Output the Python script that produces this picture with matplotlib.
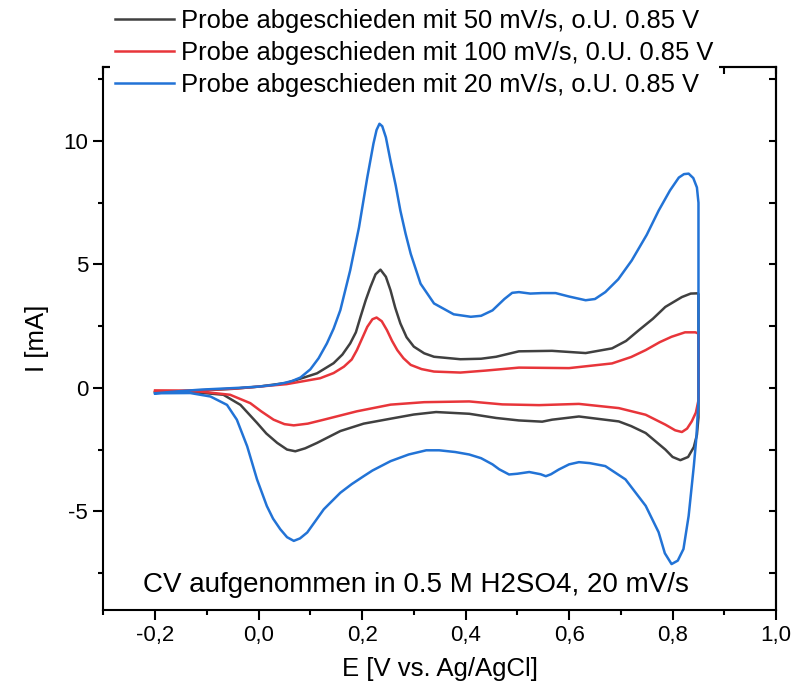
import matplotlib
matplotlib.use('Agg')
import matplotlib.pyplot as plt
from matplotlib import ticker

# CV data as (E [V], I [mA]); scan -0.2 V -> 0.85 V -> -0.2 V
labels = ['Probe abgeschieden mit 50 mV/s, o.U. 0.85 V',
          'Probe abgeschieden mit 100 mV/s, 0.U. 0.85 V',
          'Probe abgeschieden mit 20 mV/s, o.U. 0.85 V']
colors = ['#404040', '#e8353a', '#2273d6']

cv_50 = [(-0.2, -0.18), (-0.127, -0.12), (-0.05, -0.04), (0.0, 0.05), (0.054, 0.2), (0.085, 0.4),
         (0.113, 0.59), (0.145, 1.0), (0.162, 1.35), (0.177, 1.8), (0.188, 2.25), (0.197, 2.88),
         (0.207, 3.55), (0.216, 4.08), (0.226, 4.6), (0.2355, 4.79), (0.246, 4.5), (0.255, 3.95),
         (0.264, 3.25), (0.274, 2.61), (0.286, 2.05), (0.300, 1.67), (0.32, 1.4),
         (0.339, 1.26), (0.39, 1.16), (0.43, 1.18), (0.459, 1.26), (0.503, 1.48), (0.567, 1.5),
         (0.632, 1.41), (0.683, 1.6), (0.71, 1.9), (0.735, 2.34), (0.762, 2.8), (0.786, 3.28),
         (0.818, 3.68), (0.835, 3.82), (0.848, 3.83), (0.850, 3.8),
         (0.850, -1.2), (0.847, -1.9), (0.841, -2.4), (0.83, -2.8), (0.815, -2.93), (0.80, -2.8),
         (0.786, -2.5), (0.748, -1.83), (0.72, -1.55), (0.696, -1.36), (0.619, -1.16), (0.567, -1.29),
         (0.548, -1.37), (0.503, -1.32), (0.459, -1.22), (0.407, -1.05), (0.343, -0.98), (0.30, -1.08),
         (0.255, -1.25), (0.203, -1.45), (0.158, -1.75), (0.113, -2.23), (0.09, -2.45), (0.071, -2.57),
         (0.055, -2.5), (0.036, -2.23), (0.015, -1.85), (-0.003, -1.42), (-0.035, -0.69),
         (-0.068, -0.28), (-0.127, -0.17), (-0.2, -0.18)]

cv_100 = [(-0.2, -0.12), (-0.113, -0.1), (-0.04, -0.02), (0.0, 0.05), (0.054, 0.15), (0.119, 0.39),
          (0.145, 0.6), (0.165, 0.86), (0.180, 1.15), (0.190, 1.53), (0.200, 2.0), (0.210, 2.47),
          (0.220, 2.78), (0.228, 2.85), (0.238, 2.7), (0.248, 2.34), (0.258, 1.9), (0.268, 1.53),
          (0.280, 1.2), (0.294, 0.93), (0.315, 0.76), (0.339, 0.66), (0.39, 0.62),
          (0.439, 0.7), (0.503, 0.82), (0.60, 0.8), (0.683, 0.99), (0.72, 1.25), (0.748, 1.53),
          (0.775, 1.85), (0.798, 2.07), (0.824, 2.25), (0.844, 2.25), (0.850, 2.2),
          (0.850, -0.5), (0.845, -1.0), (0.837, -1.36), (0.828, -1.65), (0.818, -1.79), (0.805, -1.72),
          (0.786, -1.49), (0.748, -1.09), (0.696, -0.82), (0.619, -0.65), (0.542, -0.70), (0.471, -0.67),
          (0.407, -0.55), (0.32, -0.58), (0.255, -0.68), (0.190, -0.95), (0.126, -1.29), (0.095, -1.45),
          (0.068, -1.52), (0.05, -1.47), (0.029, -1.29), (0.005, -0.95), (-0.016, -0.62),
          (-0.055, -0.28), (-0.113, -0.15), (-0.2, -0.12)]

cv_20 = [(-0.2, -0.22), (-0.15, -0.13), (-0.11, -0.07), (-0.04, 0.0), (0.0, 0.05), (0.03, 0.12),
         (0.05, 0.2), (0.065, 0.28), (0.081, 0.42), (0.100, 0.75), (0.116, 1.2), (0.132, 1.8),
         (0.145, 2.4), (0.158, 3.15), (0.177, 4.76), (0.194, 6.5), (0.210, 8.52), (0.222, 9.9),
         (0.228, 10.45), (0.2336, 10.7), (0.239, 10.6), (0.246, 10.15), (0.255, 9.19), (0.265, 8.2),
         (0.274, 7.18), (0.284, 6.25), (0.294, 5.43), (0.313, 4.22), (0.339, 3.42), (0.377, 2.98),
         (0.41, 2.88), (0.43, 2.92), (0.452, 3.14), (0.475, 3.6), (0.49, 3.85), (0.503, 3.88),
         (0.525, 3.82), (0.548, 3.84), (0.574, 3.84), (0.60, 3.7), (0.632, 3.55), (0.65, 3.6),
         (0.67, 3.88), (0.695, 4.4), (0.721, 5.16), (0.75, 6.2), (0.773, 7.18), (0.795, 8.0),
         (0.812, 8.52), (0.822, 8.66), (0.831, 8.68), (0.84, 8.5), (0.847, 8.12), (0.850, 7.5),
         (0.850, -0.5), (0.846, -2.0), (0.841, -3.17), (0.831, -5.19), (0.821, -6.53), (0.81, -7.0),
         (0.798, -7.14), (0.785, -6.7), (0.773, -5.85), (0.748, -4.78), (0.709, -3.71), (0.67, -3.17),
         (0.64, -3.05), (0.619, -3.01), (0.60, -3.1), (0.58, -3.31), (0.565, -3.5), (0.555, -3.58),
         (0.545, -3.5), (0.523, -3.41), (0.50, -3.48), (0.484, -3.51), (0.465, -3.3), (0.452, -3.1),
         (0.43, -2.85), (0.407, -2.70), (0.38, -2.6), (0.349, -2.53), (0.324, -2.53), (0.29, -2.7),
         (0.255, -2.97), (0.22, -3.35), (0.203, -3.58), (0.180, -3.9), (0.158, -4.25), (0.126, -4.92),
         (0.108, -5.45), (0.094, -5.86), (0.08, -6.1), (0.068, -6.2), (0.055, -6.05), (0.042, -5.73),
         (0.028, -5.3), (0.016, -4.79), (-0.003, -3.71), (-0.022, -2.37), (-0.042, -1.29),
         (-0.061, -0.69), (-0.093, -0.35), (-0.132, -0.21), (-0.2, -0.22)]

plt.rcParams['font.family'] = ['Liberation Sans', 'DejaVu Sans']
plt.rcParams['axes.unicode_minus'] = False

fig = plt.figure(figsize=(7.96, 6.93), dpi=100)
ax = fig.add_axes([0.1298, 0.1198, 0.975 - 0.1298, 0.9033 - 0.1198])

for cv, lab, c in zip([cv_50, cv_100, cv_20], labels, colors):
    E = [p[0] for p in cv]
    I = [p[1] for p in cv]
    ax.plot(E, I, color=c, lw=1.8, label=lab, solid_joinstyle='round')

ax.set_xlim(-0.3, 1.0)
ax.set_ylim(-9, 13)
ax.xaxis.set_major_locator(ticker.MultipleLocator(0.2))
ax.xaxis.set_minor_locator(ticker.MultipleLocator(0.1))
ax.yaxis.set_major_locator(ticker.MultipleLocator(5))
ax.yaxis.set_minor_locator(ticker.MultipleLocator(2.5))
ax.xaxis.set_major_formatter(ticker.FuncFormatter(lambda v, p: f"{v:.1f}".replace('.', ',').replace('-0,0', '0,0')))
ax.yaxis.set_major_formatter(ticker.FuncFormatter(lambda v, p: f"{v:.0f}"))

for s in ax.spines.values():
    s.set_linewidth(1.5)
ax.tick_params(which='both', direction='out', width=1.5, labelsize=16, pad=4)
ax.tick_params(which='major', length=7)
ax.tick_params(which='minor', length=3.5)

# mirrored ticks pointing inward on top and right
top = ax.secondary_xaxis('top')
top.xaxis.set_major_locator(ticker.MultipleLocator(0.2))
top.xaxis.set_minor_locator(ticker.MultipleLocator(0.1))
top.tick_params(which='both', direction='in', width=1.5, labeltop=False, length=5)
right = ax.secondary_yaxis('right')
right.yaxis.set_major_locator(ticker.MultipleLocator(5))
right.yaxis.set_minor_locator(ticker.MultipleLocator(2.5))
right.tick_params(which='both', direction='in', width=1.5, labelright=False, length=5)
for sa in (top, right):
    for s in sa.spines.values():
        s.set_linewidth(1.5)

ax.set_xlabel('E [V vs. Ag/AgCl]', fontsize=18.5, labelpad=8)
ax.set_ylabel('I [mA]', fontsize=18.5, labelpad=10)

ax.text(-0.223, -8.27, 'CV aufgenommen in 0.5 M H2SO4, 20 mV/s', fontsize=20, va='baseline', ha='left')

leg = fig.legend(loc='upper left', bbox_to_anchor=(0.138, 0.994), fontsize=18.4, frameon=True,
                 facecolor='white', edgecolor='none', framealpha=1, fancybox=False,
                 borderpad=0.2, borderaxespad=0, handlelength=2.3, handletextpad=0.3,
                 labelspacing=0.3)

fig.savefig('out.png', dpi=100)
